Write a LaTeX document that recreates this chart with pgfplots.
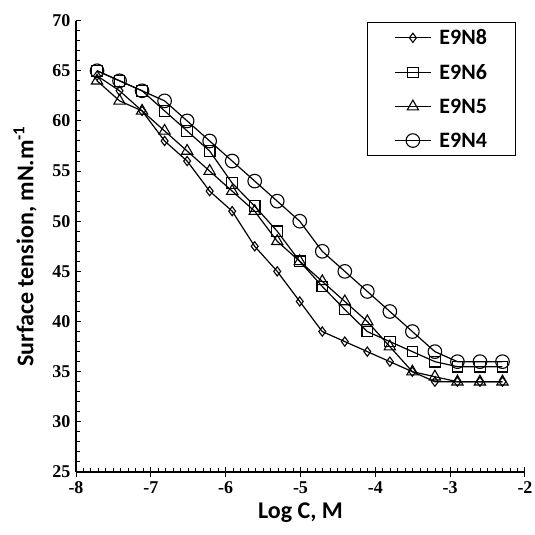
\documentclass[border=0pt]{standalone}
\usepackage{fontspec}
\setmainfont{Liberation Serif}
\newfontfamily\calib{Carlito}
\usepackage{pgfplots}
\pgfplotsset{compat=1.18}
\begin{document}
\begin{tikzpicture}
\useasboundingbox (-76pt,-63pt) rectangle (459pt,472pt);
\begin{axis}[
  scale only axis, width=449pt, height=451.4pt,
  xmin=-8, xmax=-2, ymin=25, ymax=70,
  axis lines=left, axis line style={line width=1.6pt, -},
  xtick={-8,-7,-6,-5,-4,-3,-2}, ytick={25,30,35,40,45,50,55,60,65,70},
  minor x tick num=9, minor y tick num=4,
  tick style={line width=1pt, black},
  tick align=inside,
  major tick length=5pt, minor tick length=3.5pt,
  extra x ticks={-8,-7,-6,-5,-4,-3,-2}, extra x tick labels={},
  extra x tick style={tick align=center, major tick length=10pt},
  /pgf/number format/assume math mode=true,
  tick label style={font=\bfseries\fontsize{18}{18}\selectfont},
  yticklabel style={xshift=-2pt},
  xticklabel style={yshift=-6pt},
  xlabel={Log C, M},
  ylabel={Surface tension, mN.m\textsuperscript{-1}},
  label style={font=\calib\bfseries\fontsize{24}{24}\selectfont},
  xlabel style={at={(axis description cs:0.5,-0.0905)}, anchor=center},
  ylabel style={at={(axis description cs:-0.1136,0.5)}, anchor=center},
  legend style={at={(rel axis cs:0.98,0.997)}, anchor=north east, draw=black,
    line width=1pt, font=\calib\bfseries\fontsize{22}{22}\selectfont,
    inner xsep=26.5pt, inner ysep=5pt, row sep=14pt,
    nodes={inner sep=2pt},
    /tikz/every odd column/.append style={column sep=6pt}},
  legend cell align=left,
  legend image code/.code={\draw[mark repeat=2,mark phase=2,#1] plot coordinates {(0pt,0pt) (18pt,0pt) (36pt,0pt)};},
  every axis plot/.append style={black, line width=1.2pt, mark options={solid, line width=1.1pt}},
]
\addplot[mark=diamond, mark size=4.6pt] coordinates {
(-7.719,64.5) (-7.418,63) (-7.117,61) (-6.816,58) (-6.515,56) (-6.214,53) (-5.913,51)
(-5.612,47.5) (-5.311,45) (-5.010,42) (-4.709,39) (-4.408,38) (-4.107,37) (-3.806,36)
(-3.505,35) (-3.204,34) (-2.903,34) (-2.602,34) (-2.301,34)};
\addlegendentry{E9N8}
\addplot[mark=square, mark size=5.3pt] coordinates {
(-7.719,65) (-7.418,64) (-7.117,63) (-6.816,61) (-6.515,59) (-6.214,57) (-5.913,53.8)
(-5.612,51.5) (-5.311,49) (-5.010,46) (-4.709,43.5) (-4.408,41.2) (-4.107,39) (-3.806,38)
(-3.505,37) (-3.204,36) (-2.903,35.5) (-2.602,35.5) (-2.301,35.5)};
\addlegendentry{E9N6}
\addplot[mark=triangle, mark size=6.5pt] coordinates {
(-7.719,64) (-7.418,62) (-7.117,61) (-6.816,59) (-6.515,57) (-6.214,55) (-5.913,53)
(-5.612,51) (-5.311,48) (-5.010,46) (-4.709,44) (-4.408,42) (-4.107,40) (-3.806,37.5)
(-3.505,35) (-3.204,34.5) (-2.903,34) (-2.602,34) (-2.301,34)};
\addlegendentry{E9N5}
\addplot[mark=o, mark size=6.8pt] coordinates {
(-7.719,65) (-7.418,64) (-7.117,63) (-6.816,62) (-6.515,60) (-6.214,58) (-5.913,56)
(-5.612,54) (-5.311,52) (-5.010,50) (-4.709,47) (-4.408,45) (-4.107,43) (-3.806,41)
(-3.505,39) (-3.204,37) (-2.903,36) (-2.602,36) (-2.301,36)};
\addlegendentry{E9N4}
\end{axis}
\end{tikzpicture}
\end{document}
